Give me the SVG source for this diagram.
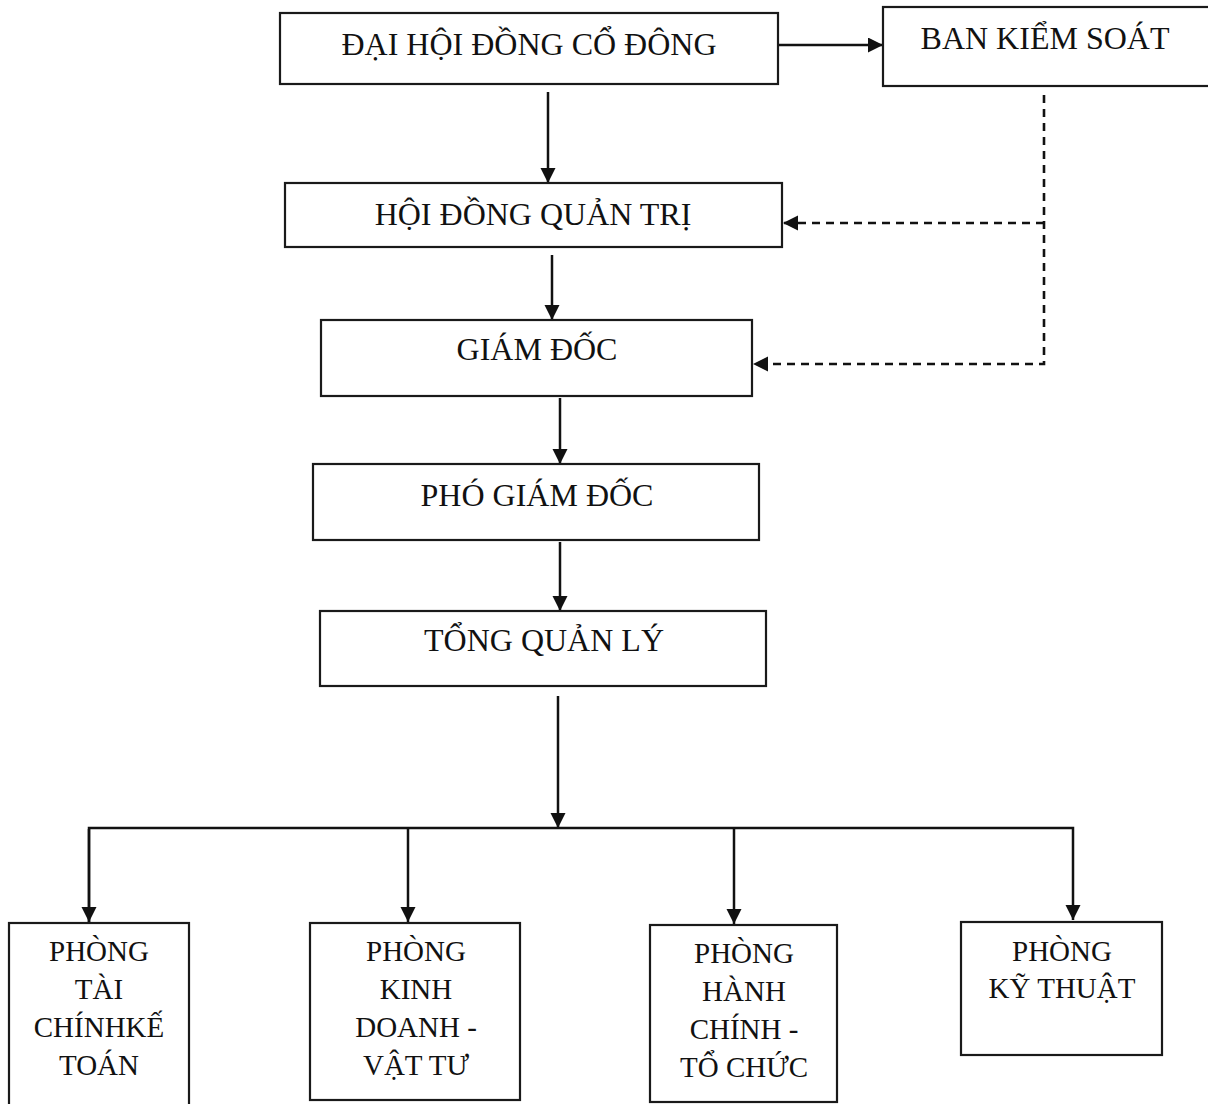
<svg xmlns="http://www.w3.org/2000/svg" width="1208" height="1104" viewBox="0 0 1208 1104">
<style>
.box{fill:#fff;stroke:#1a1a1a;stroke-width:2.2}
.t{font-family:"Liberation Serif","Times New Roman",serif;fill:#111;text-anchor:middle}
.t1{font-size:32px}
.t2{font-size:29px}
.c{fill:none;stroke:#111;stroke-width:2.5}
.d{fill:none;stroke:#111;stroke-width:2.6;stroke-dasharray:8 6}
</style>
<defs>
<marker id="ah" markerUnits="userSpaceOnUse" markerWidth="18" markerHeight="16" refX="15" refY="7.5" orient="auto">
<path d="M0,0 L15,7.5 L0,15 Z" fill="#111"/>
</marker>
</defs>
<rect width="1208" height="1104" fill="#fff"/>
<g id="connectors">
<line class="c" x1="779" y1="45" x2="883" y2="45" marker-end="url(#ah)"/>
<line class="c" x1="548" y1="92" x2="548" y2="183" marker-end="url(#ah)"/>
<line class="c" x1="552" y1="255" x2="552" y2="320" marker-end="url(#ah)"/>
<line class="c" x1="560" y1="398" x2="560" y2="464" marker-end="url(#ah)"/>
<line class="c" x1="560" y1="542" x2="560" y2="611" marker-end="url(#ah)"/>
<line class="c" x1="558" y1="696" x2="558" y2="828" marker-end="url(#ah)"/>
<polyline class="c" points="89,922 89,828 1073,828 1073,920" marker-end="url(#ah)"/>
<line class="c" x1="89" y1="829" x2="89" y2="922" marker-end="url(#ah)"/>
<line class="c" x1="408" y1="828" x2="408" y2="922" marker-end="url(#ah)"/>
<line class="c" x1="734" y1="828" x2="734" y2="924" marker-end="url(#ah)"/>
<polyline class="d" points="1044,95 1044,364 753,364" marker-end="url(#ah)"/>
<line class="d" x1="1044" y1="223" x2="783" y2="223" marker-end="url(#ah)"/>
</g>
<g id="n-daihoi">
<rect class="box" x="280" y="13" width="498" height="71"/>
<text class="t t1" x="529" y="55">ĐẠI HỘI ĐỒNG CỔ ĐÔNG</text>
</g>
<g id="n-bankiemsoat">
<rect class="box" x="883" y="7" width="330" height="79"/>
<text class="t t1" x="1045" y="49">BAN KIỂM SOÁT</text>
</g>
<g id="n-hoidongquantri">
<rect class="box" x="285" y="183" width="497" height="64"/>
<text class="t t1" x="533" y="225">HỘI ĐỒNG QUẢN TRỊ</text>
</g>
<g id="n-giamdoc">
<rect class="box" x="321" y="320" width="431" height="76"/>
<text class="t t1" x="537" y="360">GIÁM ĐỐC</text>
</g>
<g id="n-phogiamdoc">
<rect class="box" x="313" y="464" width="446" height="76"/>
<text class="t t1" x="537" y="506">PHÓ GIÁM ĐỐC</text>
</g>
<g id="n-tongquanly">
<rect class="box" x="320" y="611" width="446" height="75"/>
<text class="t t1" x="544" y="651">TỔNG QUẢN LÝ</text>
</g>
<g id="n-taichinh">
<rect class="box" x="9" y="923" width="180" height="190"/>
<text class="t t2" x="99" y="961">PHÒNG</text>
<text class="t t2" x="99" y="999">TÀI</text>
<text class="t t2" x="99" y="1037">CHÍNHKẾ</text>
<text class="t t2" x="99" y="1075">TOÁN</text>
</g>
<g id="n-kinhdoanh">
<rect class="box" x="310" y="923" width="210" height="177"/>
<text class="t t2" x="416" y="961">PHÒNG</text>
<text class="t t2" x="416" y="999">KINH</text>
<text class="t t2" x="416" y="1037">DOANH -</text>
<text class="t t2" x="416" y="1075">VẬT TƯ</text>
</g>
<g id="n-hanhchinh">
<rect class="box" x="650" y="925" width="187" height="177"/>
<text class="t t2" x="744" y="963">PHÒNG</text>
<text class="t t2" x="744" y="1001">HÀNH</text>
<text class="t t2" x="744" y="1039">CHÍNH -</text>
<text class="t t2" x="744" y="1077">TỔ CHỨC</text>
</g>
<g id="n-kythuat">
<rect class="box" x="961" y="922" width="201" height="133"/>
<text class="t t2" x="1062" y="961">PHÒNG</text>
<text class="t t2" x="1062" y="998">KỸ THUẬT</text>
</g>
</svg>
